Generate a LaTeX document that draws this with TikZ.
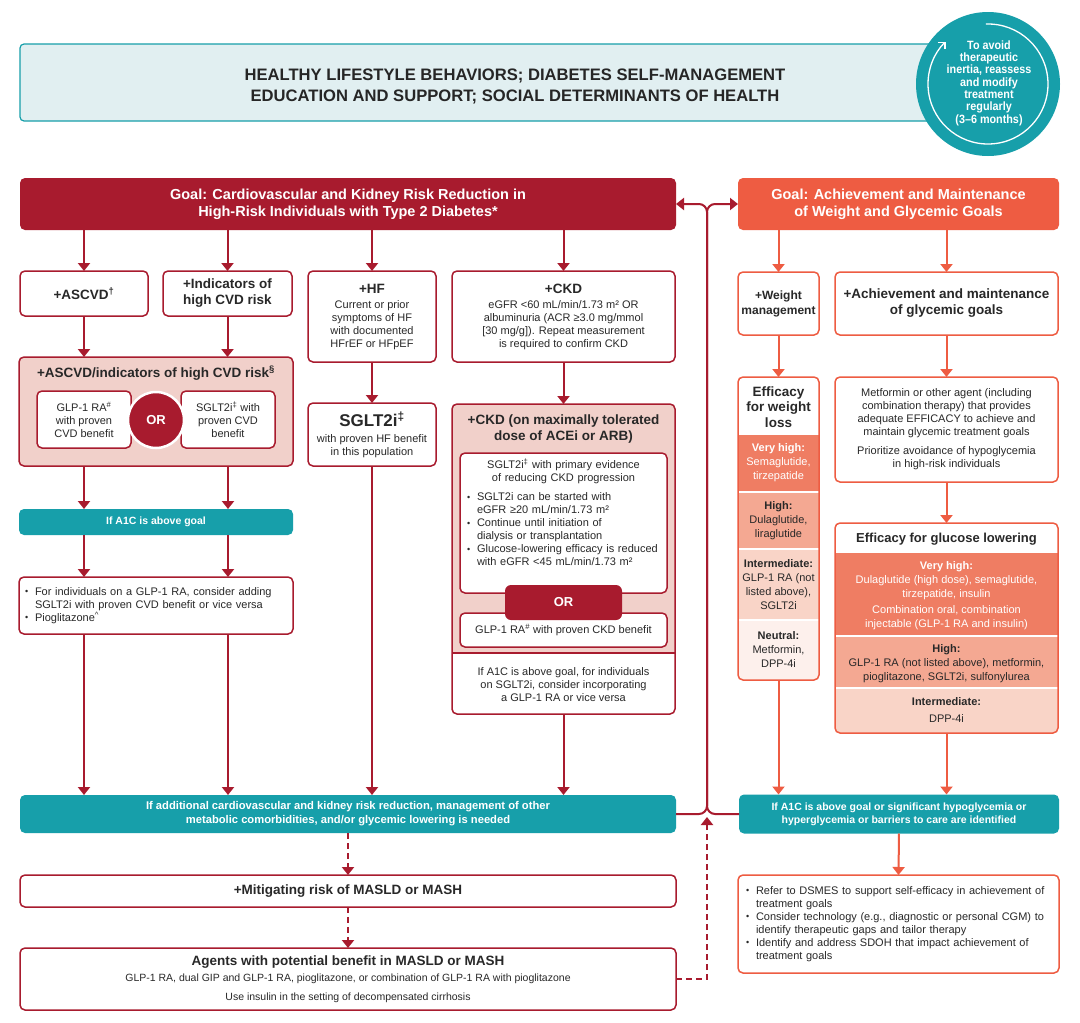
\documentclass[tikz,border=0pt]{standalone}
\usepackage{fontspec}
\setmainfont{Liberation Sans}
\newfontfamily\condf[FakeStretch=0.9]{Liberation Sans}
\usetikzlibrary{arrows.meta}
\definecolor{dred}{RGB}{168,27,46}
\definecolor{ored}{RGB}{238,92,66}
\definecolor{cteal}{RGB}{23,159,170}
\definecolor{lblue}{RGB}{225,239,241}
\definecolor{pinkf}{RGB}{241,208,202}
\definecolor{txt}{RGB}{40,40,40}
\definecolor{cvh}{RGB}{239,125,99}
\definecolor{chi}{RGB}{244,168,146}
\definecolor{cin}{RGB}{249,212,199}
\definecolor{cne}{RGB}{253,240,236}
\newcommand\bodyf{\fontsize{11}{13}\selectfont}
\newcommand\titf{\bfseries\fontsize{13.5}{16}\selectfont}
\newcommand\secf{\fontsize{11}{14}\selectfont}
\newcommand\bul{\makebox[10pt][l]{\raisebox{0.5pt}{\fontsize{9}{9}\selectfont•}}}
\tikzset{
 rbox/.style={draw=dred, line width=1.5pt, rounded corners=5pt, fill=white, text=txt, align=center, inner sep=0pt, outer sep=0pt},
 obox/.style={rbox, draw=ored},
 rframe/.style={draw=dred, line width=1.5pt, rounded corners=5pt, inner sep=0pt, outer sep=0pt},
 oframe/.style={rframe, draw=ored},
 tealbox/.style={fill=cteal, rounded corners=5pt, text=white, align=center, inner sep=0pt, outer sep=0pt},
 lbl/.style={text=txt, align=center, inner sep=0pt},
 rar/.style={draw=dred, line width=2pt, -{Triangle[width=12pt,length=8pt]}},
 oar/.style={rar, draw=ored},
 rdash/.style={rar, dash pattern=on 6pt off 4pt},
}
\begin{document}
\begin{tikzpicture}[x=1pt,y=-1pt]
\useasboundingbox (0,0) rectangle (1080,1023);
\fill[white] (0,0) rectangle (1080,1023);

% banner and circle
\node[draw=cteal, line width=1.2pt, fill=lblue, rounded corners=4pt, minimum width=915, minimum height=77, inner sep=0pt] (banner) at (477.5,82.5) {};
\node[lbl, text=black!85, font=\bfseries\fontsize{16.6}{21}\selectfont] (bannertxt) at (515,86.5) {HEALTHY LIFESTYLE BEHAVIORS; DIABETES SELF-MANAGEMENT\\EDUCATION AND SUPPORT; SOCIAL DETERMINANTS OF HEALTH};
\node[circle, fill=cteal, minimum size=144, inner sep=0pt] (circ) at (988,84) {};
\draw[white, line width=1.3pt, -{Straight Barb[length=5pt,width=10pt]}] (circ.center) ++(-92:60) arc[start angle=-92, end angle=225, radius=60];
\node[lbl, text=white, font=\condf\bfseries\fontsize{12}{12.3}\selectfont] (circtxt) at (989,83) {To avoid\\therapeutic\\inertia, reassess\\and modify\\treatment\\regularly\\(3–6 months)};

% goals
\node[fill=dred, rounded corners=5pt, minimum width=656, minimum height=52, inner sep=0pt, outer sep=0pt, text=white, align=center, font=\bfseries\fontsize{14.5}{17}\selectfont] (goalL) at (348,204) {Goal: Cardiovascular and Kidney Risk Reduction in\\High-Risk Individuals with Type 2 Diabetes*};
\node[fill=ored, rounded corners=5pt, minimum width=321, minimum height=52, inner sep=0pt, outer sep=0pt, text=white, align=center, font=\bfseries\fontsize{14.5}{17}\selectfont] (goalR) at (898.5,204) {Goal: Achievement and Maintenance\\of Weight and Glycemic Goals};

% row 1 left
\node[rbox, minimum width=128, minimum height=45, font=\titf] (ascvd) at (84,293.5) {+ASCVD\textsuperscript{†}};
\node[rbox, minimum width=129, minimum height=45, font=\titf] (ind) at (227.5,293.5) {+Indicators of\\high CVD risk};
\node[rbox, minimum width=128, minimum height=91, font=\bodyf] (hf) at (372,316.5) {{\titf +HF}\\[2pt]Current or prior\\symptoms of HF\\with documented\\HFrEF or HFpEF};
\node[rbox, minimum width=223, minimum height=91, font=\bodyf] (ckd) at (563.5,316.5) {{\titf +CKD}\\[2pt]eGFR <60 mL/min/1.73 m² OR\\albuminuria (ACR ≥3.0 mg/mmol\\{[}30 mg/g{]}). Repeat measurement\\is required to confirm CKD};

% ASCVD pink box
\node[rbox, fill=pinkf, minimum width=274, minimum height=109] (pinkA) at (156,411.5) {};
\node[lbl, font=\titf] (pinkAt) at (156,373) {+ASCVD/indicators of high CVD risk\textsuperscript{§}};
\node[rbox, minimum width=94, minimum height=57, font=\bodyf] (glpA) at (84,419.5) {GLP-1 RA\textsuperscript{\#}\\with proven\\CVD benefit};
\node[rbox, minimum width=94, minimum height=57, font=\bodyf] (sgltA) at (228,419.5) {SGLT2i\textsuperscript{‡} with\\proven CVD\\benefit};
\node[circle, fill=dred, draw=white, line width=2.5pt, minimum size=56, inner sep=0pt, text=white, font=\bfseries\fontsize{13}{15}\selectfont] (orA) at (156,420) {OR};

% SGLT2i HF
\node[rbox, minimum width=128, minimum height=63, font=\bodyf] (sglt) at (372,434.5) {{\bfseries\fontsize{17}{19}\selectfont SGLT2i\textsuperscript{‡}}\\[3pt]with proven HF benefit\\in this population};

% A1C left
\node[tealbox, minimum width=274, minimum height=26, font=\bfseries\fontsize{10.5}{12}\selectfont] (a1cL) at (156,522) {If A1C is above goal};
\node[rbox, minimum width=274, minimum height=57, text width=262, inner xsep=6pt, align=left, font=\bodyf] (bulL) at (156,605.5) {\bul For individuals on a GLP-1 RA, consider adding\\\hspace*{10pt}SGLT2i with proven CVD benefit or vice versa\\\bul Pioglitazone\textsuperscript{\textasciicircum}};

% CKD pink box
\begin{scope}
\clip[rounded corners=5pt] (452,404) rectangle (675,714);
\fill[white] (452,404) rectangle (675,714);
\fill[pinkf] (452,404) rectangle (675,653);
\end{scope}
\draw[dred, line width=1.5pt] (452,653) -- (675,653);
\node[rframe, minimum width=223, minimum height=310] (ckd2) at (563.5,559) {};
\node[lbl, font=\titf] (ckd2t) at (563.5,429.5) {+CKD (on maximally tolerated\\dose of ACEi or ARB)};
\node[rbox, minimum width=207, minimum height=140] (ckdin) at (563.5,523) {};
\node[lbl, anchor=north, text width=193, align=left, font=\bodyf] (ckdtx) at (563.5,459) {{\centering SGLT2i\textsuperscript{‡} with primary evidence\\of reducing CKD progression\par}\vspace{6pt}\bul SGLT2i can be started with\\\hspace*{10pt}eGFR ≥20 mL/min/1.73 m²\\\bul Continue until initiation of\\\hspace*{10pt}dialysis or transplantation\\\bul Glucose-lowering efficacy is reduced\\\hspace*{10pt}with eGFR <45 mL/min/1.73 m²};
\node[rbox, minimum width=207, minimum height=34, font=\bodyf] (glpC) at (563.5,630) {GLP-1 RA\textsuperscript{\#} with proven CKD benefit};
\node[fill=dred, rounded corners=6pt, minimum width=117, minimum height=35, inner sep=0pt, text=white, font=\bfseries\fontsize{13}{15}\selectfont] (orC) at (563.5,602.5) {OR};
\node[lbl, font=\bodyf] (ckd2b) at (563.5,685) {If A1C is above goal, for individuals\\on SGLT2i, consider incorporating\\a GLP-1 RA or vice versa};

% bottom left
\node[tealbox, minimum width=656, minimum height=38, font=\bfseries\fontsize{11.2}{14}\selectfont] (tealL) at (348,814) {If additional cardiovascular and kidney risk reduction, management of other\\metabolic comorbidities, and/or glycemic lowering is needed};
\node[rbox, minimum width=656, minimum height=32, font=\titf] (masld) at (348,891) {+Mitigating risk of MASLD or MASH};
\node[rbox, minimum width=656, minimum height=62, font=\fontsize{10.5}{13}\selectfont] (agents) at (348,979) {{\titf Agents with potential benefit in MASLD or MASH}\\[3pt]GLP-1 RA, dual GIP and GLP-1 RA, pioglitazone, or combination of GLP-1 RA with pioglitazone\\[6pt]Use insulin in the setting of decompensated cirrhosis};

% right column
\node[obox, minimum width=81, minimum height=63, font=\bfseries\fontsize{12}{15}\selectfont] (wm) at (778.5,303.5) {+Weight\\management};
\node[obox, minimum width=223, minimum height=63, font=\titf] (ach) at (946.5,303.5) {+Achievement and maintenance\\of glycemic goals};

\begin{scope}
\clip[rounded corners=5pt] (738,377) rectangle (819,680);
\fill[white] (738,377) rectangle (819,680);
\fill[cvh] (738,435) rectangle (819,491);
\fill[chi] (738,493) rectangle (819,548);
\fill[cin] (738,550) rectangle (819,619);
\fill[cne] (738,621) rectangle (819,680);
\end{scope}
\node[oframe, minimum width=81, minimum height=303] (wl) at (778.5,528.5) {};
\node[lbl, font=\bfseries\fontsize{13.5}{15.5}\selectfont] (wlt) at (778.5,407) {Efficacy\\for weight\\loss};
\node[lbl, text=white, font=\secf] (wlvh) at (778.5,463) {\textbf{Very high:}\\Semaglutide,\\tirzepatide};
\node[lbl, font=\secf] (wlh) at (778.5,521) {\textbf{High:}\\Dulaglutide,\\liraglutide};
\node[lbl, font=\secf] (wli) at (778.5,585) {\textbf{Intermediate:}\\GLP-1 RA (not\\listed above),\\SGLT2i};
\node[lbl, font=\secf] (wln) at (778.5,650) {\textbf{Neutral:}\\Metformin,\\DPP-4i};

\node[obox, minimum width=223, minimum height=105, font=\bodyf] (met) at (946.5,429.5) {Metformin or other agent (including\\combination therapy) that provides\\adequate EFFICACY to achieve and\\maintain glycemic treatment goals\\[6pt]Prioritize avoidance of hypoglycemia\\in high-risk individuals};

\begin{scope}
\clip[rounded corners=5pt] (835,523) rectangle (1058,733);
\fill[white] (835,523) rectangle (1058,733);
\fill[cvh] (835,553) rectangle (1058,635);
\fill[chi] (835,637) rectangle (1058,687);
\fill[cin] (835,689) rectangle (1058,733);
\end{scope}
\node[oframe, minimum width=223, minimum height=210] (gl) at (946.5,628) {};
\node[lbl, font=\bfseries\fontsize{13}{15}\selectfont] (glt) at (946.5,539) {Efficacy for glucose lowering};
\node[lbl, text=white, font=\secf] (glvh) at (946.5,596) {\textbf{Very high:}\\Dulaglutide (high dose), semaglutide,\\tirzepatide, insulin\\[2pt]Combination oral, combination\\injectable (GLP-1 RA and insulin)};
\node[lbl, font=\secf] (glh) at (946.5,663.5) {\textbf{High:}\\GLP-1 RA (not listed above), metformin,\\pioglitazone, SGLT2i, sulfonylurea};
\node[lbl, font=\secf] (gli) at (946.5,710) {\textbf{Intermediate:}\\[3pt]DPP-4i};

\node[tealbox, minimum width=320, minimum height=39, font=\bfseries\fontsize{10.5}{13}\selectfont] (tealR) at (899,814) {If A1C is above goal or significant hypoglycemia or\\hyperglycemia or barriers to care are identified};
\node[obox, minimum width=321, minimum height=98, text width=305, inner xsep=8pt, align=left, font=\bodyf] (bulR) at (898.5,924) {\bul Refer to DSMES to support self-efficacy in achievement of\\\hspace*{10pt}treatment goals\\\bul Consider technology (e.g., diagnostic or personal CGM) to\\\hspace*{10pt}identify therapeutic gaps and tailor therapy\\\bul Identify and address SDOH that impact achievement of\\\hspace*{10pt}treatment goals};

% connectors
\foreach \n in {ascvd,ind,hf,ckd} \draw[rar] (goalL.south -| \n.north) -- (\n.north);
\foreach \n in {wm,ach} \draw[oar] (goalR.south -| \n.north) -- (\n.north);
\draw[rar] (ascvd.south) -- (pinkA.north -| ascvd.south);
\draw[rar] (ind.south) -- (pinkA.north -| ind.south);
\draw[rar] (hf.south) -- (sglt.north);
\draw[rar] (ckd.south) -- (ckd2.north);
\draw[rar] (pinkA.south -| glpA.south) -- (a1cL.north -| glpA.south);
\draw[rar] (pinkA.south -| sgltA.south) -- (a1cL.north -| sgltA.south);
\draw[rar] (a1cL.south -| glpA.south) -- (bulL.north -| glpA.south);
\draw[rar] (a1cL.south -| sgltA.south) -- (bulL.north -| sgltA.south);
\draw[rar] (bulL.south -| glpA.south) -- (tealL.north -| glpA.south);
\draw[rar] (bulL.south -| sgltA.south) -- (tealL.north -| sgltA.south);
\draw[rar] (sglt.south) -- (tealL.north -| sglt.south);
\draw[rar] (ckd2.south) -- (tealL.north -| ckd2.south);
\draw[rdash] (tealL.south) -- (masld.north);
\draw[rdash] (masld.south) -- (agents.north);
\draw[oar] (wm.south) -- (wl.north);
\draw[oar] (ach.south) -- (met.north);
\draw[oar] (met.south) -- (gl.north);
\draw[oar] (wl.south) -- (tealR.north -| wl.south);
\draw[oar] (gl.south) -- (tealR.north -| gl.south);
\draw[oar] (tealR.south) -- (bulR.north);

\coordinate (jb) at (707,814);
\coordinate (jt) at (707,204);
\coordinate (jd) at (707,817);
\draw[rar, rounded corners=8pt] (tealL.east) -- (jb) -- (jt) -- (goalL.east);
\draw[rar, rounded corners=8pt] (tealR.west) -- (jb) -- (jt) -- (goalR.west);
\draw[rdash] (agents.east) -| (jd);
\end{tikzpicture}
\end{document}
